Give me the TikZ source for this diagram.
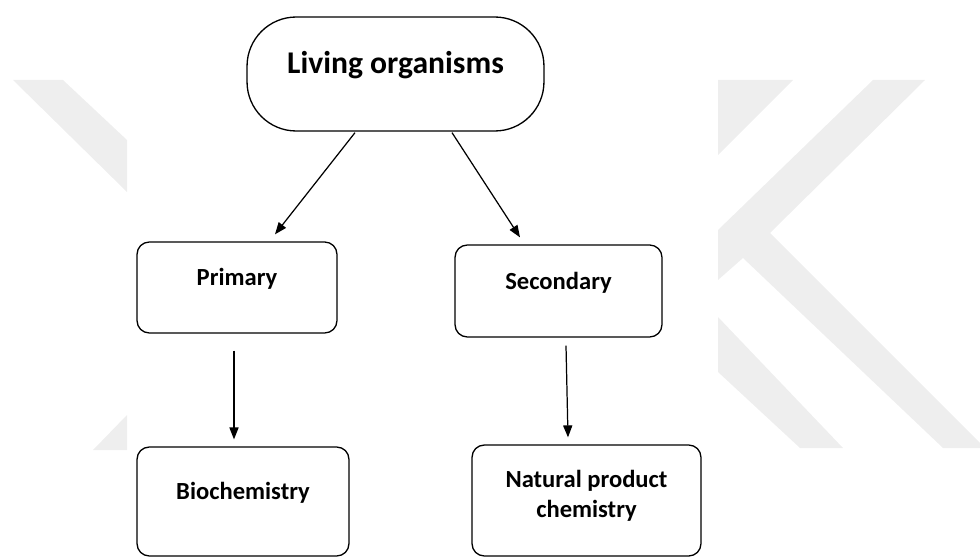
\documentclass[tikz,border=0pt]{standalone}
\usepackage{fontspec}
\setmainfont{Carlito}
\usetikzlibrary{arrows.meta}
\definecolor{wmgray}{HTML}{EEEEEE}

\begin{document}
\begin{tikzpicture}[x=0.02cm, y=-0.02cm,
  box/.style={draw, line width=0.75pt, rounded corners=7pt,
    font=\bfseries\fontsize{14}{17}\selectfont, text height=10pt, text depth=12pt},
  arr/.style={line width=0.7pt, -{Triangle[length=6.8pt, width=5.2pt]}}]
  \useasboundingbox (0,0) rectangle (980,560);

  % watermark in the background
  \fill[wmgray] (13,80) -- (63,80) -- (127,140) -- (127,192) -- cycle;
  \fill[wmgray] (93,450) -- (127,450) -- (127,415) -- cycle;
  \fill[wmgray] (718,80) -- (793,80) -- (718,155) -- cycle;
  \fill[wmgray] (873,80) -- (925,80) -- (770,233) -- (980,443) -- (980,448)
    -- (943,448) -- (743,258) -- (718,280) -- (718,230) -- cycle;
  \fill[wmgray] (718,317) -- (843,448) -- (800,448) -- (718,372) -- cycle;

  \node[box, rounded corners=28pt, minimum width=5.94cm, minimum height=2.28cm,
    font=\bfseries\fontsize{18}{21}\selectfont, text height=12pt, text depth=12pt]
    at (395.5,74)(living){Living organisms};
  \node[box, minimum width=4cm, minimum height=1.82cm] at (237,287.5)(primary){Primary};
  \node[box, minimum width=4.14cm, minimum height=1.84cm] at (558.5,291)(secondary){Secondary};
  \node[box, minimum width=4.24cm, minimum height=2.18cm] at (243,501.5)(biochem){Biochemistry};
  \node[box, minimum width=4.58cm, minimum height=2.22cm, align=center, text height=, text depth=8pt]
    at (586.5,500.5)(natprod){Natural product\\chemistry};

  \draw[arr] ([shift={(-40.5,1)}]living.south) -- ([shift={(38,-7)}]primary.north);
  \draw[arr] ([shift={(56.5,1)}]living.south) -- ([shift={(-38.5,-7)}]secondary.north);
  \draw[arr] ([shift={(-3,17)}]primary.south) -- ([shift={(-9,-7)}]biochem.north);
  \draw[arr] ([shift={(7.5,8)}]secondary.south) -- ([shift={(-18.5,-7)}]natprod.north);

\end{tikzpicture}
\end{document}
